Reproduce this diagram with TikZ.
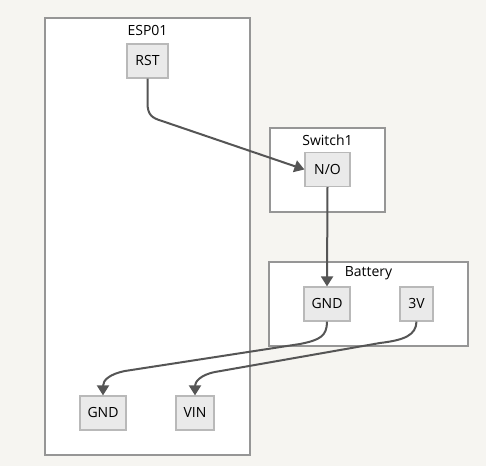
\documentclass[tikz,border=0pt]{standalone}
\usepackage{fontspec}
\setmainfont{Open Sans}
\usetikzlibrary{arrows.meta}
\definecolor{bg}{RGB}{246,245,241}
\definecolor{clborder}{RGB}{150,150,150}
\definecolor{ndfill}{RGB}{234,234,234}
\definecolor{ndborder}{RGB}{185,185,185}
\definecolor{edgecol}{RGB}{85,85,85}
\tikzset{
  cluster/.style={draw=clborder, fill=white, line width=0.9pt},
  cltitle/.style={font=\fontsize{10.5}{12}\selectfont, text=black, inner sep=0pt},
  pin/.style={draw=ndborder, fill=ndfill, line width=0.9pt, font=\fontsize{10.5}{12}\selectfont, inner sep=0pt, minimum height={34*0.75pt}},
  edge/.style={draw=edgecol, line width=1.5pt, -{Triangle[length=7.5pt,width=9pt]}},
}
\begin{document}
\begin{tikzpicture}[x=0.75pt,y=-0.75pt]
\fill[bg] (0,0) rectangle (486,466);
\useasboundingbox (0,0) rectangle (486,466);

% clusters
\draw[cluster] (45,18) rectangle (250,455);
\node[cltitle] (tesp) at (147.5,30) {ESP01};
\draw[cluster] (270,128) rectangle (385,212);
\node[cltitle] (tsw) at (327.5,140) {Switch1};
\draw[cluster] (269,262) rectangle (468,346);
\node[cltitle] (tbat) at (368.5,273) {Battery};

% pins
\node[pin, minimum width={41*0.75pt}] (rst) at (147.5,61) {RST};
\node[pin, minimum width={45*0.75pt}] (no) at (327.5,169.5) {N/O};
\node[pin, minimum width={46*0.75pt}] (bgnd) at (327,304) {GND};
\node[pin, minimum width={33*0.75pt}] (v3) at (416.5,304) {3V};
\node[pin, minimum width={46*0.75pt}] (egnd) at (103,413) {GND};
\node[pin, minimum width={38*0.75pt}] (vin) at (195,413) {VIN};

% edges
\draw[edge] (rst.south) -- (147.5,103) .. controls (147.5,115) and (152,118) .. (162,121) -- (no.west);
\draw[edge] (no.south) -- (bgnd.north);
\draw[edge] (bgnd.south) .. controls (327,336) and (320,340) .. (300,344) -- (125,371) .. controls (110,374) and (103,380) .. (egnd.north);
\draw[edge] (v3.south) .. controls (416,335) and (405,340) .. (380,343) -- (215,372) .. controls (200,375) and (195,382) .. (vin.north);
\end{tikzpicture}
\end{document}
